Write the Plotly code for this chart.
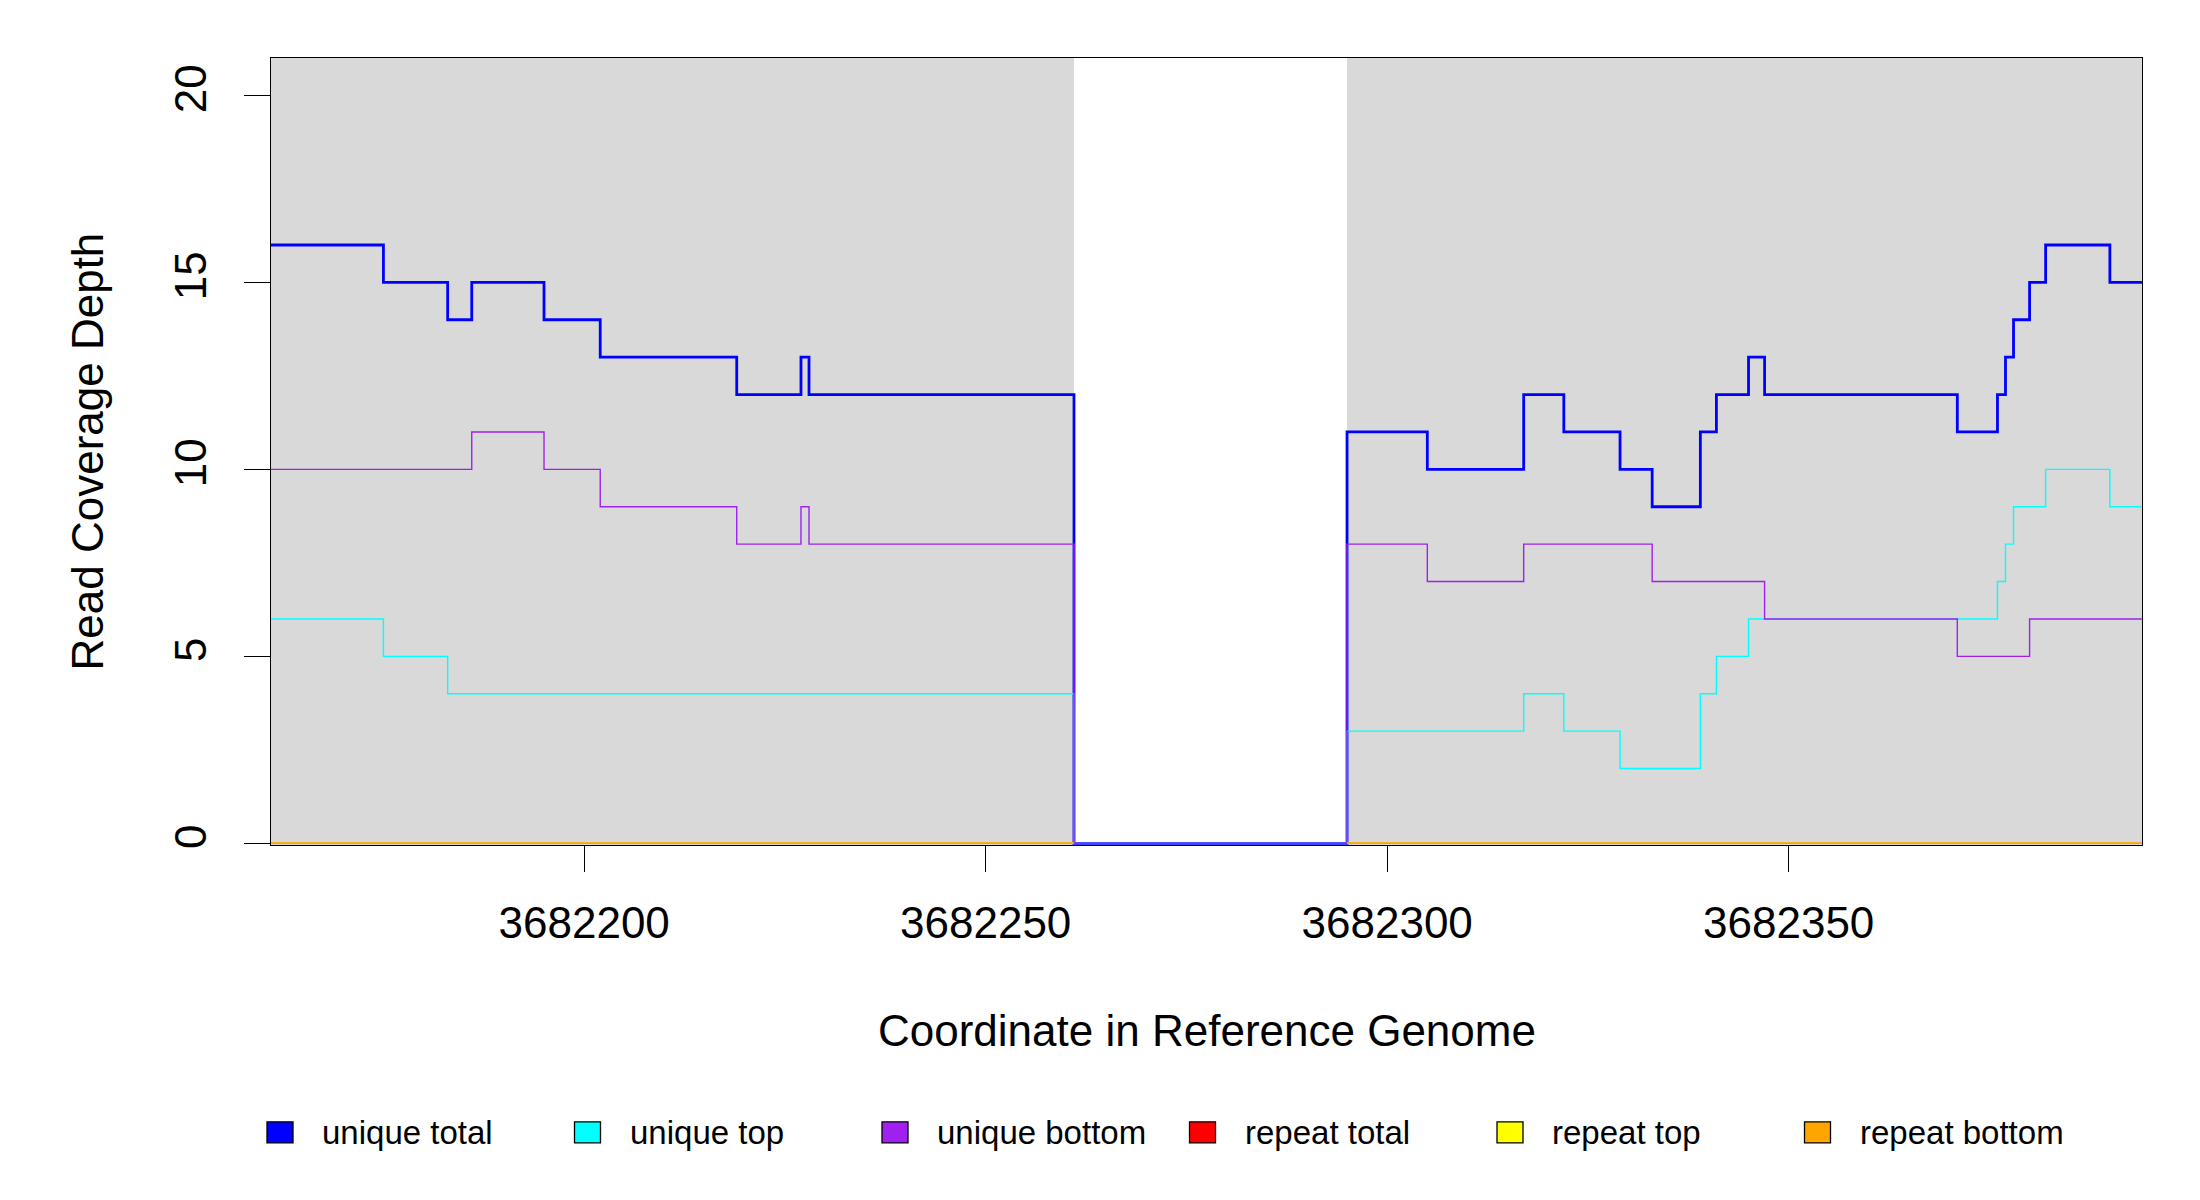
import plotly.graph_objects as go

# coverage steps: each value holds from its position up to the next one
positions = [3682161, 3682175, 3682183, 3682186, 3682195, 3682202, 3682219,
             3682227, 3682228, 3682261, 3682295, 3682305, 3682317, 3682322,
             3682329, 3682333, 3682339, 3682341, 3682345, 3682347, 3682371,
             3682376, 3682377, 3682378, 3682380, 3682382, 3682390]
end_position = 3682394

unique_total = [16, 15, 14, 15, 14, 13, 12, 13, 12, 0, 11, 10, 12, 11,
                10, 9, 11, 12, 13, 12, 11, 12, 13, 14, 15, 16, 15]
unique_top = [6, 5, 4, 4, 4, 4, 4, 4, 4, 0, 3, 3, 4, 3,
              2, 2, 4, 5, 6, 6, 6, 7, 8, 9, 9, 10, 9]
unique_bottom = [10, 10, 10, 11, 10, 9, 8, 9, 8, 0, 8, 7, 8, 8,
                 8, 7, 7, 7, 7, 6, 5, 5, 5, 5, 6, 6, 6]
# repeat coverage only exists where the reference is covered (None = gap)
repeat_total = [0] * 9 + [None] + [0] * 17
repeat_top = [0] * 9 + [None] + [0] * 17
repeat_bottom = [0] * 9 + [None] + [0] * 17

series_names = ["unique total", "unique top", "unique bottom",
                "repeat total", "repeat top", "repeat bottom"]
series_values = [unique_total, unique_top, unique_bottom,
                 repeat_total, repeat_top, repeat_bottom]
series_colors = ["#0000FF", "#00FFFF", "#A020F0", "#FF0000", "#FFFF00", "#FFA500"]
series_widths = [2.8, 1.4, 1.4, 1.6, 1.6, 1.6]

x_ticks = [3682200, 3682250, 3682300, 3682350]
y_ticks = [0, 5, 10, 15, 20]

FONT = "Liberation Sans, Arial, sans-serif"
PAGE = 8  # default body margin of the html page
W, H = 2200 - 2 * PAGE, 1200 - 2 * PAGE
# plot box in window pixels: left 271, right 2142, top 58, bottom 845.5
L, R, T, B = 271 - PAGE, W - (2142 - PAGE), 58 - PAGE, H - (845.5 - PAGE)


def step_xy(values):
    xs, ys = [], []
    ends = positions[1:] + [end_position]
    for x0, x1, v in zip(positions, ends, values):
        if v is None:
            xs.append(None)
            ys.append(None)
        else:
            xs += [x0, x1]
            ys += [v, v]
    return xs, ys


def covered_regions(values):
    regions, start = [], None
    ends = positions[1:] + [end_position]
    for x0, x1, v in zip(positions, ends, values):
        if v is not None and start is None:
            start = x0
        if v is None and start is not None:
            regions.append((start, x0))
            start = None
    if start is not None:
        regions.append((start, end_position))
    return regions


def px_x(px):
    return (px - PAGE - L) / (W - L - R)


def px_y(py):
    return (H - B - (py - PAGE)) / (H - T - B)


fig = go.Figure()

for name, vals, color, width in zip(series_names, series_values, series_colors, series_widths):
    xs, ys = step_xy(vals)
    fig.add_trace(go.Scatter(x=xs, y=ys, mode="lines", name=name,
                             line=dict(color=color, width=width),
                             connectgaps=False, showlegend=False))

for x0, x1 in covered_regions(repeat_total):
    fig.add_shape(type="rect", xref="x", yref="y domain", x0=x0, x1=x1, y0=0, y1=1,
                  fillcolor="#D9D9D9", line_width=0, layer="below")

# legend drawn as filled boxes in a row under the plot
for i, (name, color) in enumerate(zip(series_names, series_colors)):
    cx = 280 + i * 307.5
    fig.add_shape(type="rect", xref="paper", yref="paper",
                  x0=px_x(cx - 13), x1=px_x(cx + 13), y0=px_y(1143.5), y1=px_y(1122.5),
                  fillcolor=color, line=dict(color="black", width=1.3))
    fig.add_annotation(x=px_x(cx + 40), y=px_y(1133.5), xref="paper", yref="paper",
                       text=name, showarrow=False, xanchor="left", yanchor="middle",
                       font=dict(family=FONT, size=33, color="black"))

fig.add_annotation(x=0.5, y=px_y(1031), xref="paper", yref="paper",
                   text="Coordinate in Reference Genome", showarrow=False,
                   xanchor="center", yanchor="middle",
                   font=dict(family=FONT, size=44, color="black"))
fig.add_annotation(x=px_x(87), y=0.5, xref="paper", yref="paper",
                   text="Read Coverage Depth", showarrow=False, textangle=-90,
                   xanchor="center", yanchor="middle",
                   font=dict(family=FONT, size=44, color="black"))

fig.update_xaxes(range=[positions[0], end_position], tickvals=x_ticks,
                 ticktext=[str(v) for v in x_ticks], ticks="outside", ticklen=26,
                 tickwidth=1.4, tickcolor="black", showgrid=False, zeroline=False,
                 showline=True, mirror=True, linecolor="black", linewidth=1.4,
                 ticklabelstandoff=13,
                 tickfont=dict(family=FONT, size=44, color="black"))
fig.update_yaxes(range=[-0.045, 21], tickvals=y_ticks, ticks="outside", ticklen=26,
                 tickwidth=1.4, tickcolor="black", showgrid=False, zeroline=False,
                 showline=True, mirror=True, linecolor="black", linewidth=1.4,
                 tickangle=-90, ticklabelstandoff=20,
                 tickfont=dict(family=FONT, size=44, color="black"))

fig.update_layout(width=W, height=H, margin=dict(l=L, r=R, t=T, b=B),
                  plot_bgcolor="white", paper_bgcolor="white", showlegend=False)

fig.write_html("out.html")
